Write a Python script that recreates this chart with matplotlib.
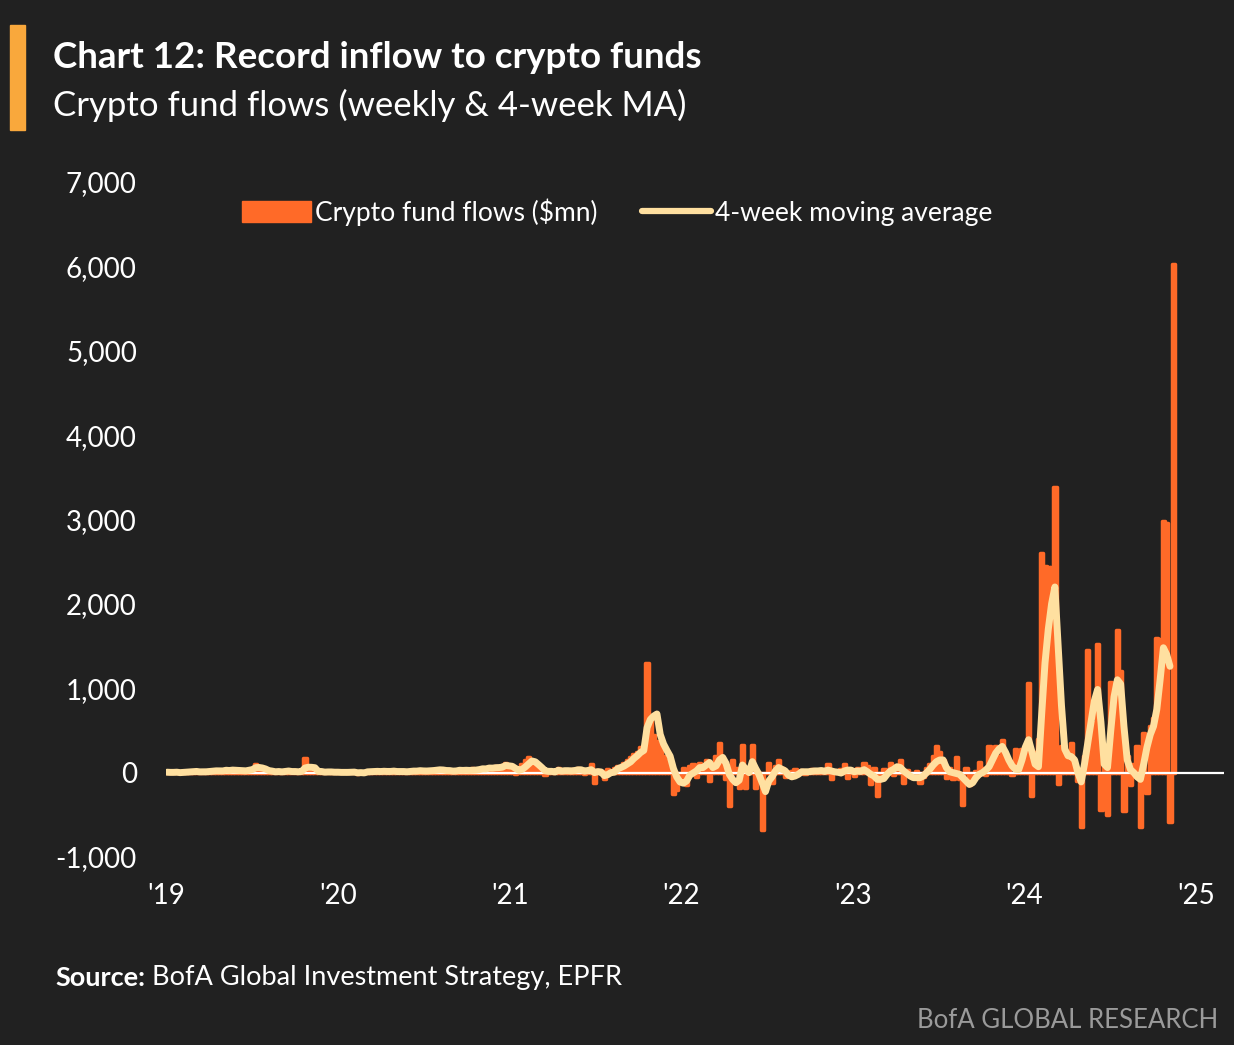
import numpy as np
import pandas as pd
import matplotlib
matplotlib.use("Agg")
import matplotlib.pyplot as plt
from matplotlib.patches import Patch, Rectangle
from matplotlib.lines import Line2D

plt.rcParams['font.family'] = ['Lato', 'DejaVu Sans']

BG = '#212121'
ORANGE = '#FF6A28'
CREAM = '#FFE0A0'

# weekly crypto fund flows ($mn), one list per ~year of weeks starting 2019-01-02
flows_2019 = [10, -5, 5, 10, -10, 5, 15, 10, 20, 10,
              -5, 15, 20, 25, 10, 30, 15, 25, 40, 20,
              35, 15, 30, 10, 30, 45, 60, 100, 40, 20,
              10, 25, 15, -10, 20, 10, 30, 15, -5, 10,
              20, 35, 170, 30, 15, 10, 5, 20, -10, 15,
              10, 5]
flows_2020 = [5, -10, 10, 5, 15, -5, -20, 10, 5, 15,
              10, 20, 15, 5, 25, 10, 15, 20, 5, 10,
              15, 10, 20, 25, 15, 30, 10, 20, 25, 40,
              30, 35, 20, 15, 25, 10, 30, 45, 20, 15,
              25, 50, 30, 40, 60, 45, 70, 35, 80, 55,
              90, 120]
flows_2021 = [60, 30, -20, 40, 100, 150, 180, 120, 60, 20, 40, -30,
              30, 10, 20, 50, -10, 30, 20, 40, 10, 60, 20, -20,
              40, 100, -120, 30, 20, -80, 40, 10, 50, 80, 60, 120,
              150, 180, 220, 250, 300, 280, 1300, 650, 450, 380, 330, 200,
              150, 100, -250, -200]
flows_2022 = [-100, 50, -150, 80, 100, -50, 120, 60, 150, -100, 80, 200,
              350, 100, -80, -400, 150, 60, -180, 330, -180, 50, 330, -180,
              -100, -680, 0, 120, -120, 80, 150, 60, -50, -30, 20, 40,
              10, 30, -20, 20, 40, 10, 20, 30, -10, 100, -80, 20,
              10, 40, 100, -60]
flows_2023 = [20, -40, 60, 30, 120, 80, -140, 50, -280, -60, 40, 20,
              120, -30, 60, 150, -120, 30, -40, -20, 20, -120, -50, 60,
              100, 200, 310, 240, 150, -60, 60, -80, 190, -80, -380, 50,
              -150, -40, 20, 130, 60, -30, 310, 300, 310, 200, 390, 150,
              50, -30, 280, 250]
flows_2024 = [280, 150, 1060, -280, 250, 400, 2600, 2450,
              2440, 2440, 3380, -140, 310, 200, 240, 350,
              100, -100, -640, 200, 1450, 500, 600, 1520,
              -440, 300, -500, 1070, 600, 1690, 1200, -460,
              200, -150, 100, 310, -640, 470, -240, 550,
              650, 1600, 1580, 2980, 2960, -590, 6030]

# 4-week moving average as drawn
ma_2019 = [5, 3, 3, 5, 0, 3, 5, 8, 12, 14,
           9, 10, 10, 14, 18, 21, 20, 20, 28, 25,
           30, 28, 25, 23, 21, 28, 36, 59, 61, 55,
           43, 24, 18, 10, 13, 9, 14, 19, 13, 13,
           10, 15, 55, 64, 63, 58, 15, 13, 6, 8,
           8, 5]
ma_2020 = [5, 3, 3, 3, 5, 6, -2, 0, -3, 9,
           11, 13, 15, 13, 16, 14, 14, 18, 13, 13,
           13, 10, 14, 18, 18, 23, 20, 19, 21, 24,
           29, 33, 31, 25, 24, 18, 20, 28, 26, 28,
           26, 28, 30, 36, 45, 44, 54, 53, 58, 60,
           65, 85]
ma_2021 = [80, 75, 50, 28, 38, 68, 103, 138, 128, 95, 60, 22,
           15, 15, 8, 28, 18, 23, 23, 20, 25, 33, 33, 18,
           25, 35, 0, 12, 8, -35, -25, 0, 5, 45, 60, 78,
           103, 128, 168, 200, 238, 263, 533, 630, 670, 695, 452, 340,
           265, 195, 50, -50]
ma_2022 = [-110, -125, -100, -30, -5, 20, 60, 60, 90, 120, 60, 80,
           150, 180, 110, -20, -80, -120, -90, 90, 40, 0, 130, 50,
           -20, -120, -225, -100, -50, 20, 60, 40, 20, -30, -50, -40,
           -20, 10, 10, 10, 15, 20, 20, 25, 15, 30, 20, 10,
           5, -5, 20, 30]
ma_2023 = [30, 10, 20, 15, 35, 10, -20, -40, -80, -80, -70, -20,
           20, 40, 70, 60, 20, -10, -40, -60, -60, -60, -40, 0,
           40, 90, 130, 150, 150, 60, 10, 0, -10, -20, -60, -100,
           -140, -120, -60, -20, 0, 30, 70, 150, 230, 280, 310, 240,
           150, 80, 40, 35]
ma_2024 = [150, 300, 390, 250, 100, 70, 700, 1300,
           1700, 2000, 2200, 1500, 800, 280, 200, 190,
           150, 0, -110, 100, 350, 600, 850, 985,
           600, 100, 60, 500, 900, 1100, 1050, 550,
           150, 35, 0, -50, -80, 100, 300, 450,
           550, 750, 1100, 1480, 1400, 1260]

flows = flows_2019 + flows_2020 + flows_2021 + flows_2022 + flows_2023 + flows_2024
ma = ma_2019 + ma_2020 + ma_2021 + ma_2022 + ma_2023 + ma_2024
weeks = pd.date_range('2019-01-02', periods=len(flows), freq='7D')

year_ticks = pd.to_datetime(['2019-01-01', '2020-01-01', '2021-01-01', '2022-01-01',
                             '2023-01-01', '2024-01-01', '2025-01-01'])
year_labels = ["'19", "'20", "'21", "'22", "'23", "'24", "'25"]
y_ticks = [-1000, 0, 1000, 2000, 3000, 4000, 5000, 6000, 7000]

W, H = 1234, 1045
fig = plt.figure(figsize=(W / 100, H / 100), dpi=100, facecolor=BG)
ax = fig.add_axes([166 / W, 1 - 857 / H, (1224 - 166) / W, (857 - 182) / H])
ax.set_facecolor(BG)

ax.bar(weeks, flows, width=7, color=ORANGE, edgecolor=ORANGE, linewidth=2.5,
       joinstyle='round', zorder=2)
ax.axhline(0, color='white', lw=1.6, zorder=3)
ax.plot(weeks[:len(ma)], ma, color=CREAM, lw=5, solid_capstyle='round',
        solid_joinstyle='round', zorder=4)

ax.set_xlim(pd.Timestamp('2018-12-31'), pd.Timestamp('2025-03-01'))
ax.set_ylim(-1000, 7000)
ax.set_xticks(year_ticks)
ax.set_xticklabels(year_labels)
ax.set_yticks(y_ticks)
ax.set_yticklabels([f'{v:,}' for v in y_ticks])
ax.tick_params(axis='both', length=0, colors='white', labelsize=20)
ax.tick_params(axis='y', pad=21)
ax.tick_params(axis='x', pad=19)
for s in ax.spines.values():
    s.set_visible(False)

handles = [Patch(facecolor=ORANGE, edgecolor=ORANGE),
           Line2D([], [], color=CREAM, lw=4.5, solid_capstyle='round')]
leg = ax.legend(handles, ['Crypto fund flows ($mn)', '4-week moving average'],
                loc='center', bbox_to_anchor=((617 - 166) / 1058, (857 - 212) / 675),
                ncol=2, frameon=False, fontsize=19, handlelength=2.6, handleheight=0.8,
                handletextpad=0.15, columnspacing=1.7, labelcolor='white')

# header
fig.patches.append(Rectangle((10 / W, 1 - 130 / H), 15 / W, 105 / H,
                             transform=fig.transFigure, color='#F9A83C'))
fig.text(53 / W, 1 - 57 / H, 'Chart 12: Record inflow to crypto funds', color='white',
         fontsize=26.5, fontweight='bold', va='center', ha='left')
fig.text(53 / W, 1 - 105 / H, 'Crypto fund flows (weekly & 4-week MA)', color='white',
         fontsize=25, va='center', ha='left')

# footer
t1 = fig.text(55 / W, 1 - 990 / H, 'Source:', color='white', fontsize=19.5,
              fontweight='bold', va='bottom', ha='left')
ax.annotate(' BofA Global Investment Strategy, EPFR', xy=(1, 0), xycoords=t1,
            color='white', fontsize=19.5, va='bottom', ha='left', annotation_clip=False)
fig.text(1218 / W, 1 - 1020 / H, 'BofA GLOBAL RESEARCH', color='#9a9a9a',
         fontsize=18.5, va='center', ha='right')

fig.savefig('out.png', dpi=100, facecolor=BG)
